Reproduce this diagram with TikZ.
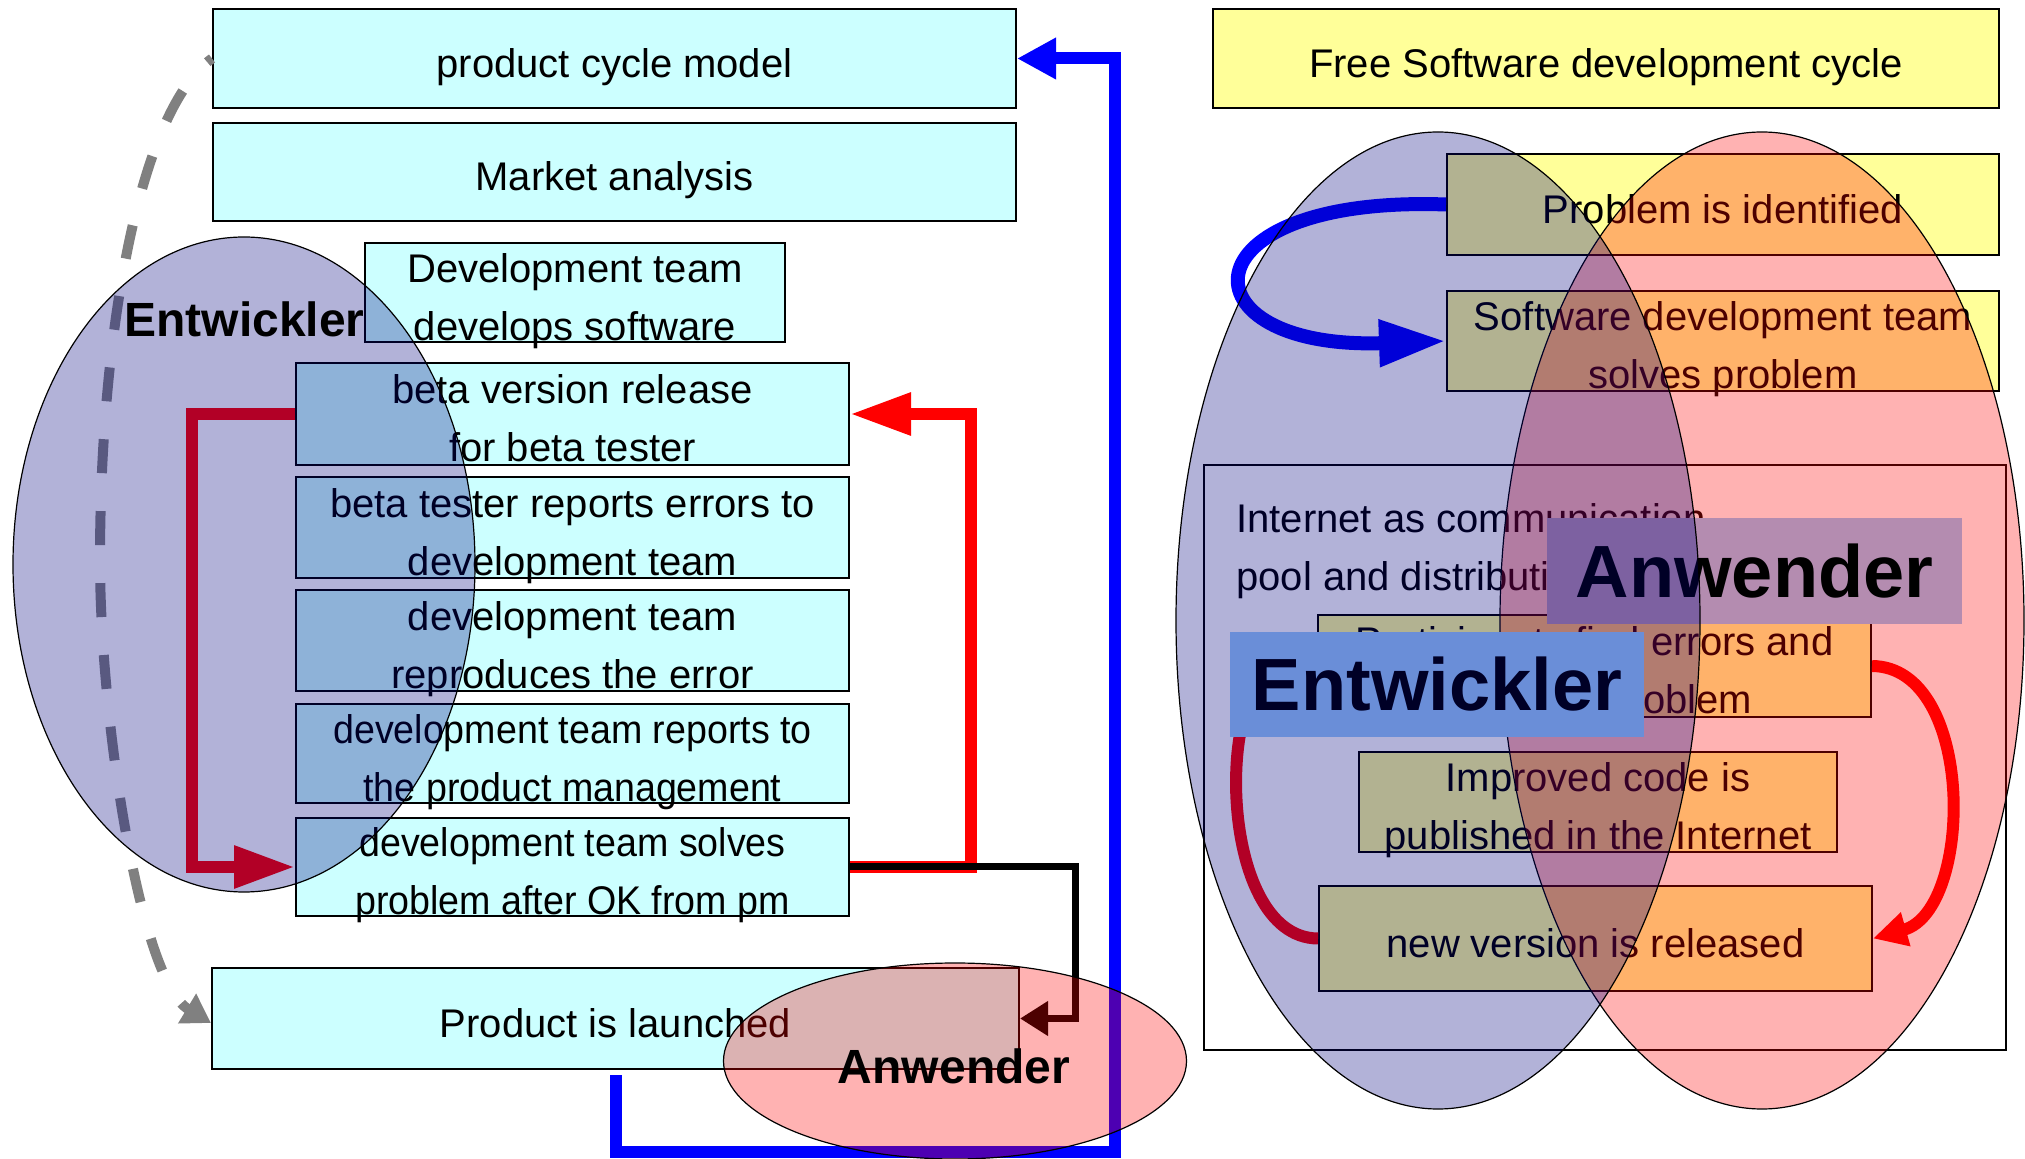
\documentclass[tikz,border=0pt]{standalone}
\usepackage{fontspec}
\usepackage{graphicx}
\setmainfont{Liberation Sans}
\usetikzlibrary{arrows.meta}
\newcommand{\mystrut}{\rule[-4.5pt]{0pt}{28pt}}
\newcommand{\hsq}[1]{\scalebox{0.94}[1]{#1}}
\definecolor{boxcyan}{HTML}{CCFFFF}
\definecolor{boxyellow}{HTML}{FFFF99}
\definecolor{labelblue}{HTML}{99CCFF}
\definecolor{labelmauve}{HTML}{B48CB0}
\definecolor{dashgray}{HTML}{808080}
\definecolor{ellblue}{HTML}{000080}
\begin{document}
\begin{tikzpicture}[x=0.5pt,y=-0.5pt,
  txt/.style={font=\fontsize{20pt}{29pt}\selectfont, align=center, inner sep=0pt},
  cbox/.style={draw=black, line width=1pt, fill=boxcyan, rectangle, inner sep=0pt},
  ybox/.style={draw=black, line width=1pt, fill=boxyellow, rectangle, inner sep=0pt},
  lblbox/.style={rectangle, inner sep=0pt, font=\fontsize{37pt}{44pt}\selectfont\bfseries},
  smalllbl/.style={inner sep=0pt, font=\fontsize{24pt}{29pt}\selectfont\bfseries},
  redarrow/.style={draw=red, line width=6pt, -{Triangle[length=30.5pt,width=20pt]}},
  bluearrow/.style={draw=blue, line width=6pt, -{Triangle[length=19.5pt,width=19.5pt]}},
  blackarrow/.style={draw=black, line width=3.5pt, -{Triangle[length=14pt,width=16.5pt]}},
  dasharrow/.style={draw=dashgray, line width=5pt, dash pattern=on 17pt off 19pt, dash phase=14pt, -{Triangle[length=14pt,width=16.5pt]}},
  bluecurve/.style={draw=blue, line width=7pt, -{Triangle[length=33.5pt,width=22pt]}},
  redcurve/.style={draw=red, line width=6pt, -{Triangle[length=17pt,width=16.5pt]}},
  ellb/.style={draw=black, line width=0.6pt, fill=ellblue, fill opacity=0.3},
  ellr/.style={draw=black, line width=0.6pt, fill=red, fill opacity=0.3}
]
\fill[white] (0,0) rectangle (2025,1159);
\useasboundingbox (0,0) rectangle (2025,1159);

% ---------- left column boxes ----------
\node[cbox, minimum width=401.5pt, minimum height=49.5pt] (pcm) at (614.5,58.5) {};
\node[txt] (pcmt) at (pcm) {\mystrut product cycle model};
\node[cbox, minimum width=401.5pt, minimum height=49pt] (ma) at (614.5,172) {};
\node[txt] (mat) at (ma) {\mystrut Market analysis};
\node[cbox, minimum width=210pt, minimum height=49.5pt] (dev) at (575,292.5) {};
\node[txt] (devt) at (dev) {\mystrut Development team\\\mystrut develops software};
\node[cbox, minimum width=276.5pt, minimum height=51pt] (beta) at (572.5,414) {};
\node[txt] (betat) at (beta) {\mystrut beta version release\\\mystrut for beta tester};
\node[cbox, minimum width=276.5pt, minimum height=50.5pt] (rep) at (572.5,527.5) {};
\node[txt] (rept) at (rep) {\mystrut beta tester reports errors to\\\mystrut development team};
\node[cbox, minimum width=276.5pt, minimum height=50.5pt] (repro) at (572.5,640.5) {};
\node[txt] (reprot) at (repro) {\mystrut development team\\\mystrut reproduces the error};
\node[cbox, minimum width=276.5pt, minimum height=49.5pt] (rpm) at (572.5,753.5) {};
\node[txt] (rpmt) at (rpm) {\mystrut\hsq{development team reports to}\\\mystrut\hsq{the product management}};
\node[cbox, minimum width=276.5pt, minimum height=49pt] (solve) at (572.5,867) {};
\node[txt] (solvet) at (solve) {\mystrut\hsq{development team solves}\\\mystrut\hsq{problem after OK from pm}};
\node[cbox, minimum width=403.5pt, minimum height=50.5pt] (launch) at (615.5,1018.5) {};
\node[txt] (launcht) at (launch) {\mystrut Product is launched};

% ---------- right column boxes ----------
\node[ybox, minimum width=393pt, minimum height=49.5pt] (fsd) at (1606,59) {};
\node[txt] (fsdt) at (fsd) {\mystrut Free Software development cycle};
\node[ybox, minimum width=276pt, minimum height=50.5pt] (prob) at (1723,204.5) {};
\node[txt] (probt) at (prob) {\mystrut Problem is identified};
\node[ybox, minimum width=276pt, minimum height=50pt] (sdt) at (1723,341) {};
\node[txt] (sdtt) at (sdt) {\mystrut Software development team\\\mystrut solves problem};
\node[draw=black, line width=1pt, fill=none, rectangle, inner sep=0pt, minimum width=401pt, minimum height=292.5pt] (frame) at (1605,757.5) {};
\node[txt, align=left, anchor=north west] (inet) at (1236,485) {\mystrut Internet as communication\\\mystrut pool and distribution medium};
\node[ybox, minimum width=276.5pt, minimum height=51pt] (part) at (1594.5,666) {};
\node[txt] (partt) at (part) {\mystrut Participants find errors and\\\mystrut solve the problem};
\node[ybox, minimum width=239pt, minimum height=50pt] (imp) at (1598,802) {};
\node[txt] (impt) at (imp) {\mystrut Improved code is\\\mystrut published in the Internet};
\node[ybox, minimum width=276.5pt, minimum height=52.5pt] (nv) at (1595.5,938.5) {};
\node[txt] (nvt) at (nv) {\mystrut new version is released};

% ---------- connectors ----------
\coordinate (bb) at (1115,1152);
\draw[bluearrow] ([yshift=-2.5pt]launch.south) |- (bb) |- (pcm.east);
\draw[redarrow] (solve.east) -- ++(121,0) |- (beta.east);
\draw[redarrow] (beta.west) -- ++(-103,0) |- (solve.west);
\draw[blackarrow] (solve.east) -- ++(225,0) |- (launch.east);
\draw[dasharrow] (pcm.west) .. controls (140,110) and (100,330) .. (100,560)
   .. controls (100,720) and (140,980) .. ([yshift=-2.25pt]launch.west);
\draw[bluecurve] (prob.west) .. controls (1180,195) and (1180,350) .. (sdt.west);
\draw[redcurve] (part.east) .. controls (1976,667) and (1974,910) .. (nv.east);
\draw[redcurve] (nv.west) .. controls (1215,938) and (1215,666) .. (part.west);

% ---------- groups ----------
\draw[ellb] (244,564.5) ellipse [x radius=115.5pt, y radius=163.75pt];
\draw[ellr] (955,1061) ellipse [x radius=115.75pt, y radius=49pt];
\draw[ellr] (1762,620.5) ellipse [x radius=131pt, y radius=244.25pt];
\node[lblbox, fill=labelmauve, minimum width=207.5pt, minimum height=53pt] (anwr) at (1754.5,571) {Anwender};
\node[lblbox, fill=labelblue, minimum width=207pt, minimum height=52.5pt] (entr) at (1437,684.5) {Entwickler};
\draw[ellb] (1438,620.5) ellipse [x radius=131pt, y radius=244.25pt];

\node[smalllbl, anchor=base] (entl) at (244.5,337) {Entwickler};
\node[smalllbl, anchor=base] (anwl) at (954,1083) {Anwender};
\end{tikzpicture}
\end{document}
